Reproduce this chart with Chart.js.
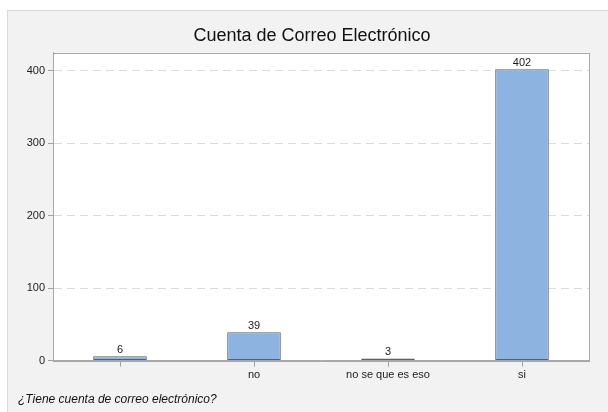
<!DOCTYPE html>
<html>
<head>
<meta charset="utf-8">
<script src="https://cdn.jsdelivr.net/npm/chart.js@4"></script>
<style>
  html, body { margin: 0; padding: 0; background: #fff; width: 608px; height: 412px; overflow: hidden; }
  #panel { position: absolute; left: 7px; top: 10px; width: 600px; height: 401px; background: #f2f2f2; border-left: 1px solid #d9d9d9; border-top: 1px solid #d9d9d9; }
</style>
</head>
<body>
<div id="panel"><canvas id="chart" width="600" height="401"></canvas></div>
<script>
// data
const categories = ['', 'no', 'no se que es eso', 'si'];
const counts = [6, 39, 3, 402];
const yTicks = [0, 100, 200, 300, 400];

const FONT = '"Liberation Sans", Arial, Helvetica, sans-serif';

// white plot area + frame round it
const plotFrame = {
    id: 'plotFrame',
    afterLayout(chart) {
        // title sits a little right of the canvas centre
        chart.titleBlock.left += 17;
    },
    beforeDraw(chart) {
        const a = chart.chartArea, c = chart.ctx;
        c.save();
        c.fillStyle = '#fff';
        c.fillRect(a.left, a.top, a.right - a.left, a.bottom - a.top);
        c.restore();
    },
    afterDraw(chart) {
        const a = chart.chartArea, c = chart.ctx;
        c.save();
        c.strokeStyle = '#a8a8a8';
        c.lineWidth = 1;
        c.strokeRect(Math.round(a.left) + 0.5, Math.round(a.top) + 0.5, Math.round(a.right - a.left), Math.round(a.bottom - a.top));
        c.restore();
    }
};

// value labels on top of the bars
const barLabels = {
    id: 'barLabels',
    afterDatasetsDraw(chart) {
        const c = chart.ctx;
        const meta = chart.getDatasetMeta(0);
        c.save();
        c.font = '11px ' + FONT;
        c.fillStyle = '#1a1a1a';
        c.textAlign = 'center';
        c.textBaseline = 'bottom';
        meta.data.forEach((bar, i) => {
            c.fillText(String(counts[i]), bar.x, bar.y - 1);
        });
        c.restore();
    }
};

new Chart(document.getElementById('chart').getContext('2d'), {
    type: 'bar',
    data: {
        labels: categories,
        datasets: [{
            data: counts,
            backgroundColor: '#8db3e0',
            borderColor: '#56606e',
            borderWidth: 1,
            borderSkipped: false,
            categoryPercentage: 1,
            barPercentage: 0.4
        }]
    },
    options: {
        responsive: false,
        animation: false,
        layout: { padding: { left: 10, right: 19, top: 0, bottom: 0 } },
        plugins: {
            legend: { display: false },
            tooltip: { enabled: false },
            title: {
                display: true,
                text: 'Cuenta de Correo Electrónico',
                color: '#111',
                font: { family: FONT, size: 18, weight: 'normal' },
                padding: { top: 14, bottom: 6 }
            },
            subtitle: {
                display: true,
                position: 'bottom',
                align: 'start',
                text: '¿Tiene cuenta de correo electrónico?',
                color: '#111',
                font: { family: FONT, size: 12, style: 'italic', weight: 'normal' },
                padding: { top: 4, bottom: 5 }
            }
        },
        scales: {
            x: {
                offset: true,
                grid: { display: true, drawOnChartArea: false, offset: false, tickLength: 6, tickColor: '#a0a0a0' },
                border: { display: true, color: '#a8a8a8' },
                ticks: { color: '#222', font: { family: FONT, size: 11 }, padding: 2, maxRotation: 0, autoSkip: false },
                afterFit(scale) { scale.height = 28; }
            },
            y: {
                min: 0,
                max: 425,
                afterBuildTicks(scale) { scale.ticks = yTicks.map(v => ({ value: v })); },
                grid: {
                    color: ctx => (ctx.tick && ctx.tick.value === 0) ? 'rgba(0,0,0,0)' : '#dcdcdc',
                    tickColor: '#a0a0a0',
                    tickLength: 5,
                    tickBorderDash: []
                },
                border: { display: true, color: '#a8a8a8', dash: [8, 5] },
                ticks: { color: '#222', font: { family: FONT, size: 11 }, padding: 3 },
                afterFit(scale) { scale.width = 35; }
            }
        }
    },
    plugins: [plotFrame, barLabels]
});
</script>
</body>
</html>
